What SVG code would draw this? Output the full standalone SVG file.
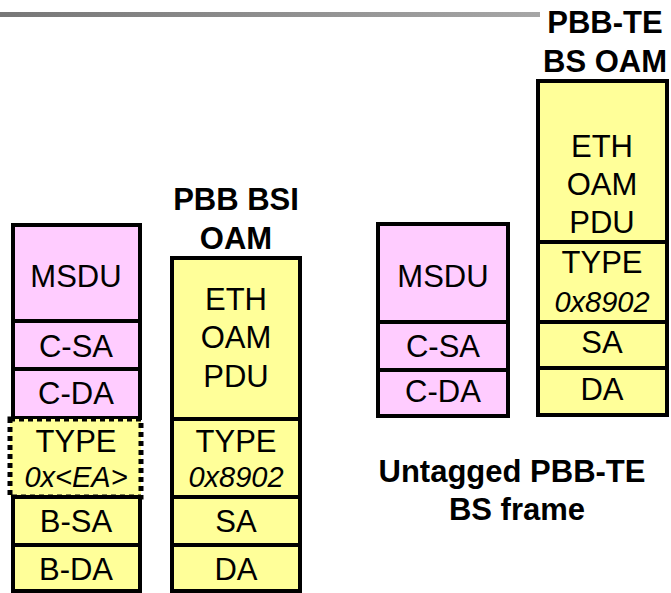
<svg xmlns="http://www.w3.org/2000/svg" width="671" height="593" viewBox="0 0 671 593">
<defs>
<linearGradient id="lg" x1="0" y1="0" x2="1" y2="0">
<stop offset="0" stop-color="#777777"/>
<stop offset="1" stop-color="#a6a6a6"/>
</linearGradient>
</defs>
<style>
.p{fill:#ffccff;stroke:#000;stroke-width:4}
.y{fill:#ffff99;stroke:#000;stroke-width:4}
.d{fill:#ffff99;stroke:#000;stroke-width:5;stroke-dasharray:5 4}
text{font-family:"Liberation Sans",Arial,sans-serif;fill:#000;text-anchor:middle}
.t{font-size:31px}
.i{font-size:29px;font-style:italic}
.h{font-size:31px;font-weight:bold}
</style>
<rect x="0" y="12" width="540" height="5" fill="url(#lg)"/>
<g id="titles">
<text class="h" x="236" y="210">PBB BSI</text>
<text class="h" x="236" y="249">OAM</text>
<text class="h" x="605" y="33">PBB-TE</text>
<text class="h" x="605" y="72">BS OAM</text>
<text class="h" x="512" y="482">Untagged PBB-TE</text>
<text class="h" x="517" y="520">BS frame</text>
</g>
<g id="left-frame">
<rect class="p" x="13" y="225" width="127" height="96"/>
<text class="t" x="76" y="287">MSDU</text>
<rect class="p" x="13" y="321" width="127" height="48"/>
<text class="t" x="76" y="357">C-SA</text>
<rect class="p" x="13" y="369" width="127" height="49"/>
<text class="t" x="76" y="404">C-DA</text>
<rect class="d" x="10" y="419" width="131" height="78"/>
<text class="t" x="76" y="452">TYPE</text>
<text class="i" x="76" y="487">0x&lt;EA&gt;</text>
<rect class="y" x="13" y="497" width="127" height="48"/>
<text class="t" x="76" y="532">B-SA</text>
<rect class="y" x="13" y="545" width="127" height="46"/>
<text class="t" x="76" y="580">B-DA</text>
</g>
<g id="bsi-oam">
<rect class="y" x="172" y="258" width="128" height="161"/>
<text class="t" x="236" y="310">ETH</text>
<text class="t" x="236" y="348">OAM</text>
<text class="t" x="236" y="387">PDU</text>
<rect class="y" x="172" y="419" width="128" height="78"/>
<text class="t" x="236" y="452">TYPE</text>
<text class="i" x="236" y="487">0x8902</text>
<rect class="y" x="172" y="497" width="128" height="48"/>
<text class="t" x="236" y="532">SA</text>
<rect class="y" x="172" y="545" width="128" height="46"/>
<text class="t" x="236" y="580">DA</text>
</g>
<g id="untagged-frame">
<rect class="p" x="378" y="224" width="130" height="98"/>
<text class="t" x="443" y="287">MSDU</text>
<rect class="p" x="378" y="322" width="130" height="48"/>
<text class="t" x="443" y="357">C-SA</text>
<rect class="p" x="378" y="370" width="130" height="46"/>
<text class="t" x="443" y="402">C-DA</text>
</g>
<g id="te-oam">
<rect class="y" x="538" y="81" width="129" height="161"/>
<text class="t" x="602" y="157">ETH</text>
<text class="t" x="602" y="195">OAM</text>
<text class="t" x="602" y="233">PDU</text>
<rect class="y" x="538" y="242" width="129" height="80"/>
<text class="t" x="602" y="273">TYPE</text>
<text class="i" x="602" y="312">0x8902</text>
<rect class="y" x="538" y="322" width="129" height="46"/>
<text class="t" x="602" y="353">SA</text>
<rect class="y" x="538" y="368" width="129" height="47"/>
<text class="t" x="602" y="400">DA</text>
</g>
<g id="connectors"></g>
</svg>
